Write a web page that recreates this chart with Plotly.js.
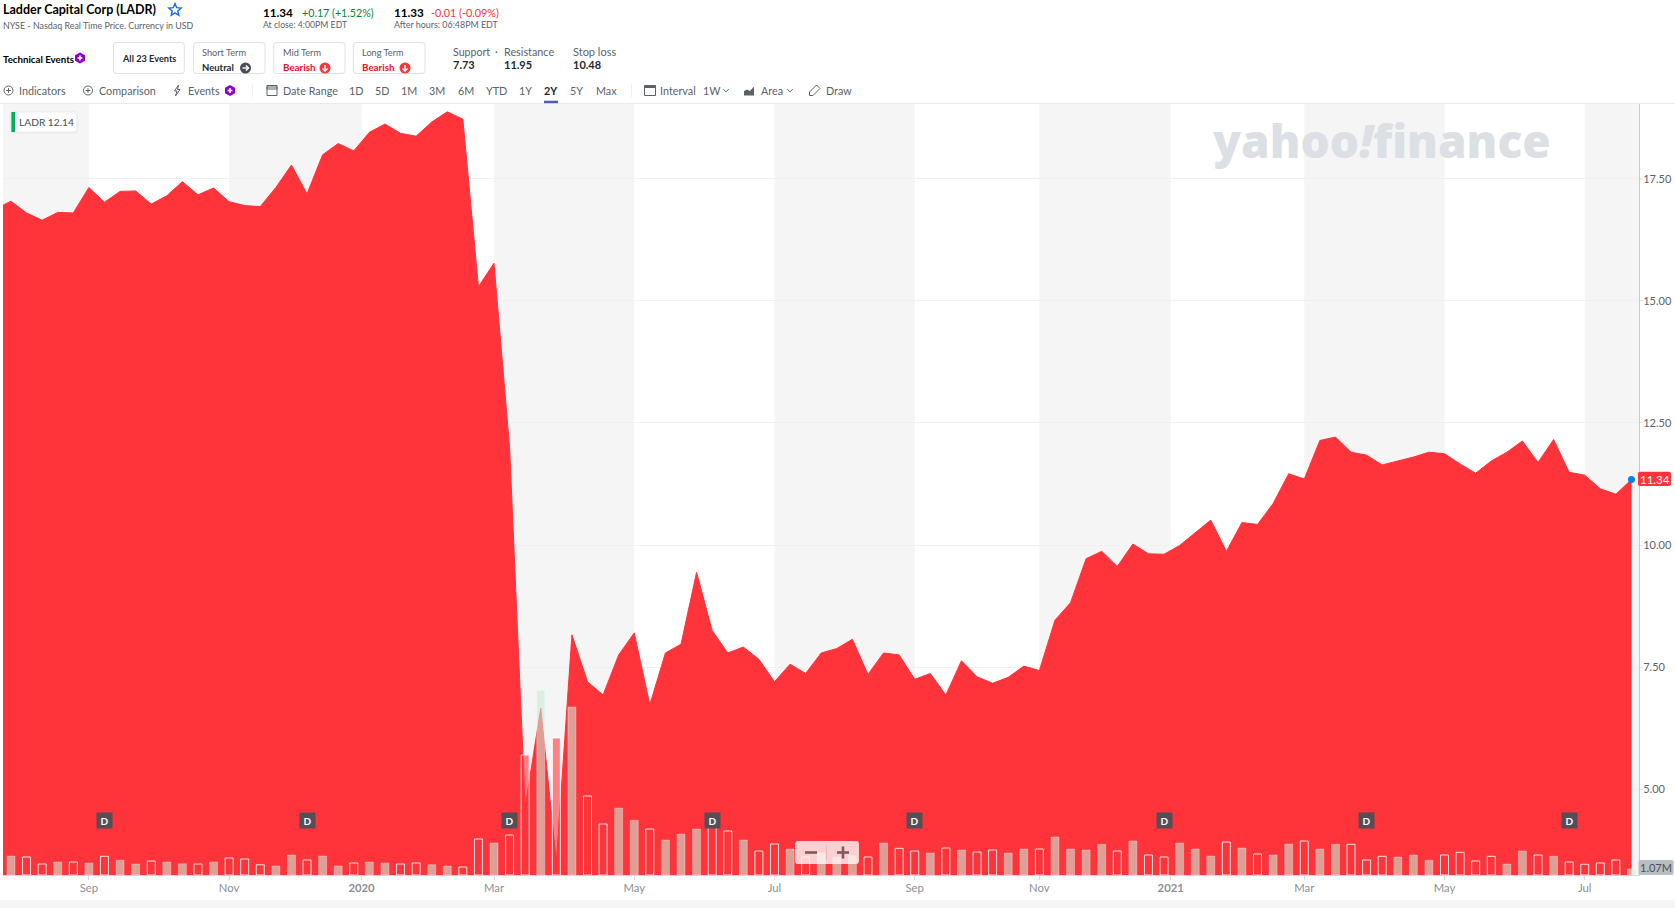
<!DOCTYPE html>
<html>
<head>
<meta charset="utf-8">
<script src="https://cdn.plot.ly/plotly-3.0.1.min.js"></script>
<style>html,body{margin:0;padding:0;background:#fff;overflow:hidden}#chart{width:1675px;height:908px}</style>
</head>
<body>
<div id="chart"></div>
<script>
const weekDates = ["2019-07-22","2019-07-29","2019-08-05","2019-08-12","2019-08-19","2019-08-26","2019-09-02","2019-09-09","2019-09-16","2019-09-23","2019-09-30","2019-10-07","2019-10-14","2019-10-21","2019-10-28","2019-11-04","2019-11-11","2019-11-18","2019-11-25","2019-12-02","2019-12-09","2019-12-16","2019-12-23","2019-12-30","2020-01-06","2020-01-13","2020-01-20","2020-01-27","2020-02-03","2020-02-10","2020-02-17","2020-02-24","2020-03-02","2020-03-09","2020-03-16","2020-03-23","2020-03-30","2020-04-06","2020-04-13","2020-04-20","2020-04-27","2020-05-04","2020-05-11","2020-05-18","2020-05-25","2020-06-01","2020-06-08","2020-06-15","2020-06-22","2020-06-29","2020-07-06","2020-07-13","2020-07-20","2020-07-27","2020-08-03","2020-08-10","2020-08-17","2020-08-24","2020-08-31","2020-09-07","2020-09-14","2020-09-21","2020-09-28","2020-10-05","2020-10-12","2020-10-19","2020-10-26","2020-11-02","2020-11-09","2020-11-16","2020-11-23","2020-11-30","2020-12-07","2020-12-14","2020-12-21","2020-12-28","2021-01-04","2021-01-11","2021-01-18","2021-01-25","2021-02-01","2021-02-08","2021-02-15","2021-02-22","2021-03-01","2021-03-08","2021-03-15","2021-03-22","2021-03-29","2021-04-05","2021-04-12","2021-04-19","2021-04-26","2021-05-03","2021-05-10","2021-05-17","2021-05-24","2021-05-31","2021-06-07","2021-06-14","2021-06-21","2021-06-28","2021-07-05","2021-07-12","2021-07-19","2021-07-26"];
const priceValues = [16.88,17.04,16.80,16.65,16.81,16.80,17.32,17.02,17.24,17.25,16.98,17.15,17.44,17.17,17.31,17.03,16.95,16.93,17.32,17.78,17.19,17.99,18.22,18.07,18.45,18.62,18.43,18.37,18.66,18.87,18.72,15.29,15.77,11.99,4.64,6.66,3.52,8.16,7.20,6.93,7.75,8.20,6.73,7.79,7.97,9.44,8.25,7.79,7.91,7.66,7.20,7.56,7.37,7.79,7.88,8.07,7.35,7.79,7.75,7.25,7.37,6.93,7.63,7.30,7.17,7.29,7.52,7.43,8.46,8.82,9.72,9.87,9.56,10.02,9.82,9.81,9.99,10.25,10.51,9.87,10.46,10.42,10.85,11.46,11.35,12.14,12.21,11.90,11.84,11.64,11.72,11.80,11.90,11.87,11.66,11.47,11.72,11.90,12.13,11.69,12.16,11.49,11.43,11.15,11.04,11.34];
const volumeMillions = [3.38,3.20,1.96,2.31,2.31,2.14,3.33,2.62,1.96,2.49,2.31,2.01,1.96,2.31,3.03,2.85,1.83,1.60,3.56,2.67,3.38,1.60,2.14,2.31,2.14,1.96,2.14,1.83,1.60,1.42,6.41,5.70,7.12,21.36,32.88,24.39,29.90,14.06,9.08,11.93,9.74,8.19,6.23,7.30,8.19,8.67,7.83,6.23,4.27,5.52,4.63,3.20,3.92,3.20,3.44,3.20,5.70,4.75,4.27,3.92,4.81,4.45,4.09,4.45,3.92,4.63,4.63,6.76,4.63,4.45,5.46,4.27,6.05,3.56,3.20,5.70,4.63,3.38,5.87,4.81,3.74,3.56,5.52,6.05,4.63,5.46,5.46,2.67,3.33,3.20,3.56,2.62,3.56,4.04,2.49,3.33,1.96,4.27,3.56,3.33,2.31,1.90,2.14,2.67,1.07];
const volumeUp = [1,0,0,1,0,1,0,1,1,0,1,1,0,1,0,0,0,1,1,0,1,1,0,1,1,0,0,1,1,0,0,1,0,0,1,0,1,0,0,1,1,0,1,1,1,0,0,1,0,0,1,0,1,1,1,0,1,0,0,1,0,1,0,0,1,1,0,1,1,1,1,0,1,0,0,1,1,1,0,1,0,1,1,0,1,1,0,0,0,1,1,1,0,0,0,0,1,1,0,1,0,0,0,0,1];
const xTickDates = ["2019-09-02","2019-11-04","2020-01-02 12:00","2020-03-02","2020-05-04","2020-07-06","2020-09-07","2020-11-02","2020-12-31","2021-03-01","2021-05-03","2021-07-05"];
const xTickLabels = ["Sep","Nov","<b>2020</b>","Mar","May","Jul","Sep","Nov","<b>2021</b>","Mar","May","Jul"];
const yTickValues = [5,7.5,10,12.5,15,17.5];
const yTickLabels = ["5.00","7.50","10.00","12.50","15.00","17.50"];
const dividendDates = ["2019-09-09","2019-12-09","2020-03-09","2020-06-08","2020-09-07","2020-12-28","2021-03-29","2021-06-28"];
const rangeButtons = ["1D","5D","1M","3M","6M","YTD","1Y","2Y","5Y","Max"];

const FONT = "Lato, 'Open Sans', sans-serif";
const L = 3, R = 1639, T = 104, B = 875, W = 1675, H = 908;
const px = x => (x - L) / (R - L);
const py = y => (B - y) / (B - T);
const RED = "#ff333a", GREY = "#5b636a", DARK = "#000000", BAND = "#f5f5f5";
const RANGE_START = "2019-07-25 10:00", RANGE_END = "2021-07-29 09:00";

const annotations = [], shapes = [];
function text(x, y, s, o) {
  o = o || {};
  const anchor = o.anchor || "left";
  annotations.push({xref:"paper", yref:"paper", x:px(anchor==="left"?x-1:x), y:py(y), text:s, showarrow:false,
    xanchor:anchor, yanchor:"middle", borderpad:0,
    font:{family:o.family||FONT, size:o.size||11, color:o.color||GREY, weight:o.weight||400}});
}
function rect(x0,y0,x1,y1,fill,line){
  shapes.push({type:"rect",xref:"paper",yref:"paper",x0:px(x0),x1:px(x1),y0:py(y0),y1:py(y1),
    fillcolor:fill||"rgba(0,0,0,0)",line:{color:line||"rgba(0,0,0,0)",width:line?1:0},layer:"above"});
}
function rrect(x0,y0,x1,y1,r,fill,line){
  const P=(a,b)=>px(a)+","+py(b);
  const d="M"+P(x0+r,y0)+" L"+P(x1-r,y0)+" Q"+P(x1,y0)+" "+P(x1,y0+r)+" L"+P(x1,y1-r)+" Q"+P(x1,y1)+" "+P(x1-r,y1)+
    " L"+P(x0+r,y1)+" Q"+P(x0,y1)+" "+P(x0,y1-r)+" L"+P(x0,y0+r)+" Q"+P(x0,y0)+" "+P(x0+r,y0)+" Z";
  shapes.push({type:"path",xref:"paper",yref:"paper",path:d,fillcolor:fill||"rgba(0,0,0,0)",
    line:{color:line||"rgba(0,0,0,0)",width:line?1:0},layer:"above"});
}
function poly(pts,fill,line,w,close){
  const d=pts.map((p,i)=>(i?"L":"M")+px(p[0])+","+py(p[1])).join(" ")+(close===false?"":" Z");
  shapes.push({type:"path",xref:"paper",yref:"paper",path:d,fillcolor:fill||"rgba(0,0,0,0)",
    line:{color:line||"rgba(0,0,0,0)",width:line?(w||1):0},layer:"above"});
}
function circle(cx,cy,r,fill,line){
  shapes.push({type:"circle",xref:"paper",yref:"paper",x0:px(cx-r),x1:px(cx+r),y0:py(cy+r),y1:py(cy-r),
    fillcolor:fill||"rgba(0,0,0,0)",line:{color:line||"rgba(0,0,0,0)",width:line?1:0},layer:"above"});
}
function plusCircle(cx,cy){ circle(cx,cy,4.5,null,GREY);
  poly([[cx-2.4,cy],[cx+2.4,cy]],null,GREY,1,false); poly([[cx,cy-2.4],[cx,cy+2.4]],null,GREY,1,false); }
function hexPlus(cx,cy){ poly([[cx,cy-5.5],[cx+5,cy-2.8],[cx+5,cy+2.8],[cx,cy+5.5],[cx-5,cy+2.8],[cx-5,cy-2.8]],"#8f00c9");
  poly([[cx-2.4,cy],[cx+2.4,cy]],null,"#fff",1.6,false); poly([[cx,cy-2.4],[cx,cy+2.4]],null,"#fff",1.6,false); }
function arrowDown(cx,cy,c){ circle(cx,cy,5.5,c);
  poly([[cx,cy-3],[cx,cy+3]],null,"#fff",1.4,false); poly([[cx-2.6,cy+0.4],[cx,cy+3],[cx+2.6,cy+0.4]],null,"#fff",1.4,false); }
function arrowRight(cx,cy,c){ circle(cx,cy,5.5,c);
  poly([[cx-3,cy],[cx+3,cy]],null,"#fff",1.4,false); poly([[cx+0.4,cy-2.6],[cx+3,cy],[cx+0.4,cy+2.6]],null,"#fff",1.4,false); }
function chevron(cx,cy){ poly([[cx-2.8,cy-1.4],[cx,cy+1.4],[cx+2.8,cy-1.4]],null,GREY,1,false); }

// Alternating month bands
const bandEdges = [RANGE_START].concat(xTickDates,[RANGE_END]);
for (let i=0;i<bandEdges.length-1;i+=2){
  shapes.push({type:"rect",xref:"x",yref:"paper",x0:bandEdges[i],x1:bandEdges[i+1],y0:0,y1:1,
    fillcolor:BAND,line:{width:0},layer:"below"});
}

// Header
text(3,9.5,"Ladder Capital Corp (LADR)",{size:12.5,color:DARK,weight:700});
poly([[175,3.5],[176.7,7.65],[181.2,8],[177.8,10.9],[178.8,15.3],[175,12.9],[171.2,15.3],[172.2,10.9],[168.8,8],[173.3,7.65]],null,"#0f69ff",1.4);
text(3,25.5,"NYSE - Nasdaq Real Time Price. Currency in USD",{size:8.9});
text(263.3,12.5,"11.34",{size:11.7,color:DARK,weight:700});
text(301.7,12.5,"+0.17 (+1.52%)",{size:10.7,color:"#00873c"});
text(263.3,25,"At close: 4:00PM EDT",{size:8.7});
text(393.9,12.5,"11.33",{size:11.7,color:DARK,weight:700});
text(430.6,12.5,"-0.01 (-0.09%)",{size:10.8,color:RED});
text(393.9,25,"After hours: 06:48PM EDT",{size:8.9});

text(3,59,"Technical Events",{size:9.7,color:DARK,weight:700});
hexPlus(80,58);
rrect(113.5,42.5,184.3,73.5,3,"#fff","#dfe2e5");
text(148.9,59,"All 23 Events",{size:9.2,color:"#232a31",weight:700,anchor:"center"});
rrect(193.6,42.5,265,73.5,3,"#fff","#dfe2e5");
text(202,52.5,"Short Term",{size:9.2});
text(202,67.5,"Neutral",{size:9.5,color:"#232a31",weight:700});
arrowRight(245.5,68,"#464e56");
rrect(273.7,42.5,345,73.5,3,"#fff","#dfe2e5");
text(282.5,52.5,"Mid Term",{size:9.2});
text(282.5,67.5,"Bearish",{size:9.8,color:"#eb0f29",weight:700});
arrowDown(325,68,RED);
rrect(353.3,42.5,425,73.5,3,"#fff","#dfe2e5");
text(362,52.5,"Long Term",{size:9.2});
text(362,67.5,"Bearish",{size:9.8,color:"#eb0f29",weight:700});
arrowDown(405,68,RED);
text(453,51.5,"Support",{size:10.6});
text(496.4,51.5,"·",{size:10.6,anchor:"center"});
text(503.6,51.5,"Resistance",{size:10.8});
text(573,51.5,"Stop loss",{size:11});
text(453,64.5,"7.73",{size:11,color:"#232a31",weight:700});
text(503.6,64.5,"11.95",{size:11,color:"#232a31",weight:700});
text(573,64.5,"10.48",{size:11,color:"#232a31",weight:700});

// Toolbar
const TY = 90.5, TS = 10.8;
plusCircle(8.5,TY); text(19.2,TY,"Indicators",{size:TS});
plusCircle(88,TY); text(98.7,TY,"Comparison",{size:TS});
poly([[178.5,TY-5.5],[174.5,TY+0.5],[177,TY+0.5],[175.5,TY+5.5],[180,TY-1],[177.5,TY-1]],null,GREY,1);
text(188,TY,"Events",{size:TS});
hexPlus(230,TY);
rect(252,TY-6,252.5,TY+7,"#dfe2e5");
rect(267,TY-3.5,277,TY+5,null,GREY); rect(267,TY-5,277,TY-1.5,null,GREY);
text(283,TY,"Date Range",{size:TS});
const rangeCenters = [355.5,382,408.7,437,465.7,496.4,525.5,551.3,576,606];
rangeButtons.forEach((b,i)=>{
  text(rangeCenters[i],TY,b,{size:TS,anchor:"center",color:b==="2Y"?"#232a31":GREY,weight:b==="2Y"?700:400});
});
rect(544,100.7,558,103.7,"#4d5ac1");
rect(631,TY-6,631.5,TY+7,"#dfe2e5");
rect(644.5,TY-5,655.5,TY+5,null,GREY); rect(644.5,TY-5,655.5,TY-2.5,GREY);
text(660.4,TY,"Interval",{size:TS});
text(703,TY,"1W",{size:TS});
chevron(726,TY);
poly([[744,TY+5],[744,TY+0.5],[747,TY-1],[750,TY+0.5],[754,TY-4],[754,TY+5]],GREY);
text(761,TY,"Area",{size:TS});
chevron(790,TY);
poly([[809.5,TY+1.5],[816.5,TY-5.5],[820,TY-2],[813,TY+5],[809.5,TY+5]],null,GREY,1);
text(825.6,TY,"Draw",{size:TS});

// Frame
shapes.push({type:"rect",xref:"paper",yref:"paper",x0:px(0),x1:px(W),y0:py(103.8),y1:py(103),fillcolor:"#e0e3e5",line:{width:0},layer:"above"});
shapes.push({type:"rect",xref:"paper",yref:"paper",x0:px(0),x1:px(W),y0:py(H),y1:py(900),fillcolor:BAND,line:{width:0},layer:"above"});

// Legend chip
rrect(10.4,111.5,77.8,133.5,3,"rgba(0,0,0,0.05)");
rrect(11.4,112,76.8,132,2,"#fff","#eceef0");
rect(11.4,112,15,132,"#00b061");
text(19.3,121.5,"LADR 12.14",{size:10.2,color:"#464e56"});

// Watermark
annotations.push({xref:"paper",yref:"paper",x:px(1381),y:py(140),xanchor:"center",yanchor:"middle",showarrow:false,
  text:"yahoo<i>!</i>finance",font:{family:"'Open Sans'",size:46,color:"#dcdfe3",weight:800}});

// Price tag & volume tag
rrect(1638,471.7,1671,486,2,RED);
text(1655,479,"11.34",{size:11.5,color:"#fff",anchor:"center"});
rrect(1638.5,860,1673.6,875,2,"#b9bec3");
text(1656,867.5,"1.07M",{size:11,color:"#464e56",anchor:"center"});

// Zoom control
rrect(795,841,859,864,3,"rgba(255,255,255,0.76)");
rect(826.5,845,827,860,"rgba(70,78,86,0.3)");
poly([[805,852.5],[817,852.5]],null,"#7d5a5c",2.6,false);
poly([[837,852.5],[849,852.5]],null,"#7d5a5c",2.6,false);
poly([[843,846.5],[843,858.5]],null,"#7d5a5c",2.6,false);

// Dividend markers
dividendDates.forEach(d=>{
  annotations.push({xref:"x",yref:"paper",x:d,y:py(820),text:"<b>D</b>",showarrow:false,xanchor:"center",yanchor:"middle",
    bgcolor:"#544f57",borderpad:2,width:11,height:11,font:{family:FONT,size:10,color:"#fff"}});
});

const volDates = weekDates.slice(1);
const BAR_MS = 310000000;
const traces = [
  {type:"scatter",mode:"lines",x:weekDates,y:priceValues,fill:"tozeroy",fillcolor:RED,
   line:{color:RED,width:1},hoverinfo:"skip",showlegend:false},
  {type:"scatter",mode:"markers",x:[weekDates[weekDates.length-1]],y:[priceValues[priceValues.length-1]],
   marker:{color:"#0081f2",size:7},cliponaxis:false,hoverinfo:"skip",showlegend:false},
  {type:"bar",yaxis:"y2",x:volDates,y:volumeMillions.map((v,i)=>volumeUp[i]?v:null),width:BAR_MS,
   marker:{color:"rgba(199,235,216,0.59)",line:{color:"rgba(255,255,255,0.3)",width:1}},hoverinfo:"skip",showlegend:false},
  {type:"bar",yaxis:"y2",x:volDates,y:volumeMillions.map((v,i)=>volumeUp[i]?null:v),width:BAR_MS,
   marker:{color:"rgba(255,51,58,0.6)",line:{color:"rgba(255,255,255,0.85)",width:1}},hoverinfo:"skip",showlegend:false}
];

const layout = {
  width:W,height:H,margin:{l:L,r:W-R,t:T,b:H-B,pad:0},
  paper_bgcolor:"#fff",plot_bgcolor:"#fff",showlegend:false,barmode:"overlay",
  font:{family:FONT,size:11,color:GREY},
  xaxis:{type:"date",range:[RANGE_START,RANGE_END],tickmode:"array",tickvals:xTickDates,ticktext:xTickLabels,
    showgrid:false,showline:true,linecolor:"#d6d9dc",linewidth:1,ticks:"outside",ticklen:4,tickcolor:"#d6d9dc",tickangle:0,
    ticklabelstandoff:-2,tickfont:{family:FONT,size:11.3,color:"#8b9096"},zeroline:false},
  yaxis:{side:"right",range:[3.243,19.03],tickmode:"array",tickvals:yTickValues,ticktext:yTickLabels,
    showgrid:true,gridcolor:"#f0f0f0",gridwidth:1,showline:true,linecolor:"#c8cbce",linewidth:1,
    ticks:"outside",ticklen:3,tickcolor:"#e0e3e5",ticklabelstandoff:-2,tickfont:{family:FONT,size:11,color:GREY},zeroline:false},
  yaxis2:{overlaying:"y",side:"right",range:[0,137.24],visible:false,showgrid:false,zeroline:false},
  shapes:shapes,annotations:annotations
};
Plotly.newPlot("chart",traces,layout,{displayModeBar:false,staticPlot:true});
</script>
</body>
</html>
